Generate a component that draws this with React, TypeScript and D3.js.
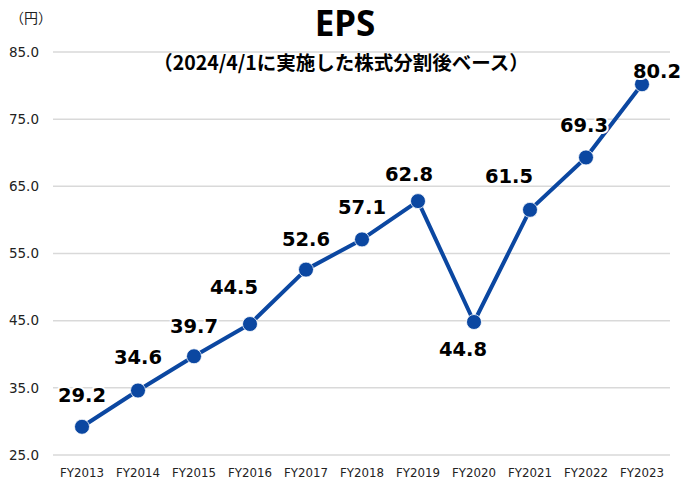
import React from "react";
import * as d3 from "d3";

const categories = ["FY2013","FY2014","FY2015","FY2016","FY2017","FY2018","FY2019","FY2020","FY2021","FY2022","FY2023"];
const eps = [29.2, 34.6, 39.7, 44.5, 52.6, 57.1, 62.8, 44.8, 61.5, 69.3, 80.2];
const yTicks = [25, 35, 45, 55, 65, 75, 85];
const title = "EPS";
const subtitle = "（2024/4/1に実施した株式分割後ベース）";
const unit = "（円）";

// label offsets (layout only)
const labelDx = [0, 0, 0, -16, 0, 0, -9, -11, -21, -2, 15];
const labelDy = [-32, -33, -30, -37, -30, -32, -27, 27, -34, -32, -13];

const W = 686, H = 480;
const LINE = "#0b47a1";

export default function App() {
  const x = d3.scaleBand<string>().domain(categories).range([54, 670]);
  const y = d3.scaleLinear().domain([25, 85]).range([455, 52]);
  const cx = (c: string) => (x(c) as number) + x.bandwidth() / 2;
  const line = d3.line<number>().x((_, i) => cx(categories[i])).y((d) => y(d));
  const numFont = "'DejaVu Sans', Verdana, sans-serif";
  return (
    <svg width={W} height={H} style={{ position: "absolute", left: 0, top: 0, background: "#fff" }}>
      <rect width={W} height={H} fill="#fff" />
      {yTicks.map((t) => (
        <g key={t}>
          <line x1={53} x2={670} y1={y(t)} y2={y(t)} stroke="#d9d9d9" strokeWidth={1.5} />
          <text x={39} y={y(t)} dy="0.35em" textAnchor="end" fontFamily={numFont} fontSize={13.5} fill="#222">
            {t.toFixed(1)}
          </text>
        </g>
      ))}
      {categories.map((c) => (
        <text key={c} x={cx(c)} y={473} dy="0.35em" textAnchor="middle" fontFamily={numFont} fontSize={11.8} fill="#222">
          {c}
        </text>
      ))}
      <text x={31} y={18} dy="0.35em" textAnchor="middle" fontFamily="'Noto Sans CJK JP', sans-serif" fontSize={14} fill="#222">
        {unit}
      </text>
      <text x={345} y={24} dy="0.35em" textAnchor="middle" fontFamily="'Noto Sans', sans-serif" fontWeight="bold" fontSize={35} fill="#000">
        {title}
      </text>
      <text x={341} y={63} dy="0.35em" textAnchor="middle" fontFamily="'Noto Sans CJK JP', sans-serif" fontWeight="bold" fontSize={19.5} fill="#000">
        {subtitle}
      </text>
      <path d={line(eps) || ""} fill="none" stroke={LINE} strokeWidth={4} strokeLinejoin="round" />
      {eps.map((v, i) => (
        <circle key={i} cx={cx(categories[i])} cy={y(v)} r={7.5} fill={LINE} stroke="#fff" strokeWidth={0.8} />
      ))}
      {eps.map((v, i) => (
        <text
          key={"l" + i}
          x={cx(categories[i]) + labelDx[i]}
          y={y(v) + labelDy[i]}
          dy="0.35em"
          textAnchor="middle"
          fontFamily={numFont}
          fontWeight="bold"
          fontSize={19.5}
          fill="#000"
          stroke="#fff"
          strokeWidth={4}
          paintOrder="stroke"
          strokeLinejoin="round"
        >
          {v.toFixed(1)}
        </text>
      ))}
    </svg>
  );
}
